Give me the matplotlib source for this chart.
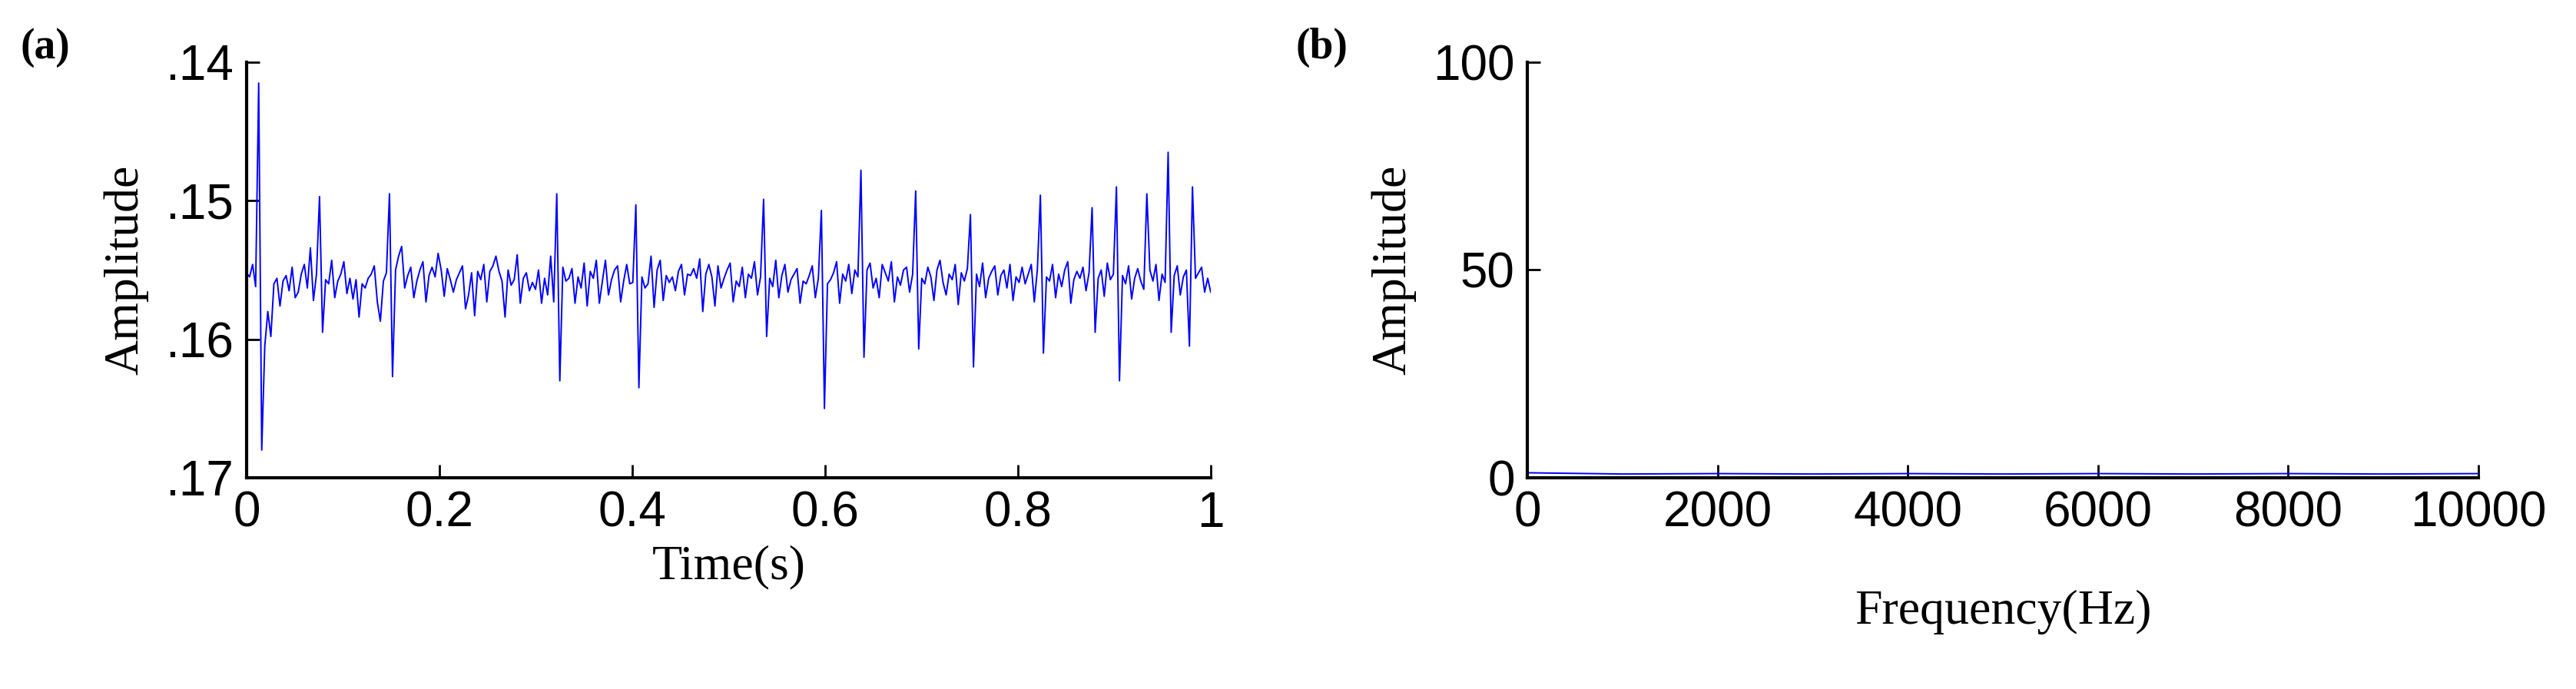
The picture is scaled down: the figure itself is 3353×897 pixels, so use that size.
import numpy as np
import matplotlib
matplotlib.use("Agg")
import matplotlib.pyplot as plt

# signal (a): amplitude values in thousandths, plotted as negative (axis labels show .14 .. .17)
sig_a = [
155.2,155.5,154.6,156.2,141.5,168.0,160.5,158.0,159.8,156.0,155.6,157.6,155.8,155.4,156.5,154.8,157.0,156.6,
155.3,154.6,156.3,153.4,157.2,155.3,149.7,159.5,155.7,156.0,154.3,157.0,155.8,155.3,154.4,156.7,155.6,157.1,155.7,158.4,
156.0,156.3,155.6,155.3,154.7,157.3,158.7,155.8,155.2,149.5,162.7,155.0,154.0,153.3,156.3,155.4,154.8,157.0,155.8,155.0,
154.4,157.3,155.4,154.8,155.5,153.8,155.0,156.9,154.9,155.7,156.6,155.7,155.2,154.7,157.8,156.8,155.2,158.3,155.1,155.7,
154.6,157.3,155.1,154.7,154.0,155.1,155.8,158.4,155.0,156.1,155.7,153.9,157.4,155.6,155.2,156.5,155.9,156.4,155.0,157.4,
155.6,156.8,154.0,157.3,149.5,163.0,154.8,155.8,155.6,154.9,157.4,155.5,156.3,154.5,157.6,155.1,155.6,154.3,157.4,155.8,
154.3,156.8,155.7,155.0,154.7,157.3,155.8,154.6,156.0,155.9,150.3,163.5,155.5,156.3,156.0,154.0,157.7,155.0,154.3,157.2,
155.4,155.9,155.5,156.5,155.1,154.6,156.8,155.3,155.4,154.9,155.6,154.2,158.0,155.3,154.6,155.5,157.6,154.7,156.3,155.6,
155.0,154.5,157.3,155.8,156.2,154.8,157.0,155.3,155.6,154.4,156.8,155.5,149.9,159.8,155.6,156.2,154.3,157.0,155.4,154.6,
156.6,155.7,155.3,154.9,157.4,155.8,156.0,155.4,154.7,157.0,155.6,150.7,165.0,156.0,155.7,155.2,154.4,157.4,155.3,155.8,
154.6,156.7,155.0,155.5,147.8,161.3,155.0,154.5,156.3,155.6,157.0,154.6,155.2,155.8,154.4,157.3,155.5,156.1,155.0,154.8,
156.6,155.3,149.3,160.7,155.6,156.0,154.8,155.5,157.2,155.0,154.3,155.9,156.8,155.3,155.7,154.6,157.5,155.2,155.8,154.9,
151.0,162.0,155.3,156.2,154.5,157.0,155.6,155.1,154.7,156.8,155.4,155.0,156.3,154.6,157.2,155.5,155.9,154.8,156.0,155.3,
154.6,157.3,155.0,149.6,161.0,155.5,155.8,154.6,157.0,155.3,156.2,155.0,154.4,157.4,155.7,155.1,155.6,154.8,156.5,155.2,
150.5,159.5,155.6,155.0,156.9,154.5,155.7,155.3,149.0,163.0,155.4,156.0,154.7,157.1,155.6,154.9,155.8,156.4,149.5,155.0,
155.8,154.6,157.2,155.3,155.9,146.5,159.5,155.4,154.7,156.8,155.5,155.0,160.5,149.0,155.6,155.2,154.8,156.6,155.6,156.6,
]
freq_b = [0, 1000, 2000, 3000, 4000, 5000, 6000, 7000, 8000, 9000, 10000]
amp_b = [1.2, 0.9, 1.0, 0.9, 1.0, 0.9, 1.0, 0.9, 1.0, 0.9, 1.0]

t_a = np.linspace(0, 1, len(sig_a))
y_a = -np.array(sig_a) / 1000.0

fig = plt.figure(figsize=(33.53, 8.97), dpi=100)
sans = "Liberation Sans"
serif = "Liberation Serif"
blue = "#0000ff"

ax1 = fig.add_axes([0.0957, 0.3066, 0.3743, 0.6031])
ax1.plot(t_a, y_a, color=blue, lw=1.4)
ax1.set_xlim(0, 1)
ax1.set_ylim(-0.17, -0.14)
ax1.set_yticks([-0.14, -0.15, -0.16, -0.17])
ax1.set_yticklabels([".14", ".15", ".16", ".17"])
ax1.set_xticks([0, 0.2, 0.4, 0.6, 0.8, 1.0])
ax1.set_xticklabels(["0", "0.2", "0.4", "0.6", "0.8", "1"])
ax1.set_xlabel("Time(s)", fontfamily=serif, fontsize=46, labelpad=8)
ax1.set_ylabel("Amplitude", fontfamily=serif, fontsize=46, labelpad=16)

ax2 = fig.add_axes([0.593, 0.3066, 0.369, 0.6031])
ax2.plot(freq_b, amp_b, color=blue, lw=1.4)
ax2.set_xlim(0, 10000)
ax2.set_ylim(0, 100)
ax2.set_yticks([0, 50, 100])
ax2.set_xticks([0, 2000, 4000, 6000, 8000, 10000])
ax2.set_xlabel("Frequency(Hz)", fontfamily=serif, fontsize=46, labelpad=50)
ax2.set_ylabel("Amplitude", fontfamily=serif, fontsize=46, labelpad=16)

for ax in (ax1, ax2):
    for s in ("top", "right"):
        ax.spines[s].set_visible(False)
    for s in ("left", "bottom"):
        ax.spines[s].set_linewidth(3)
    ax.tick_params(direction="in", length=12, width=2, labelsize=46, pad=12)
    for lab in ax.get_xticklabels() + ax.get_yticklabels():
        lab.set_fontfamily(sans)

fig.text(0.008, 0.915, "(a)", fontfamily=serif, fontsize=40, fontweight="bold")
fig.text(0.503, 0.915, "(b)", fontfamily=serif, fontsize=40, fontweight="bold")

fig.savefig("out.png", dpi=100)
